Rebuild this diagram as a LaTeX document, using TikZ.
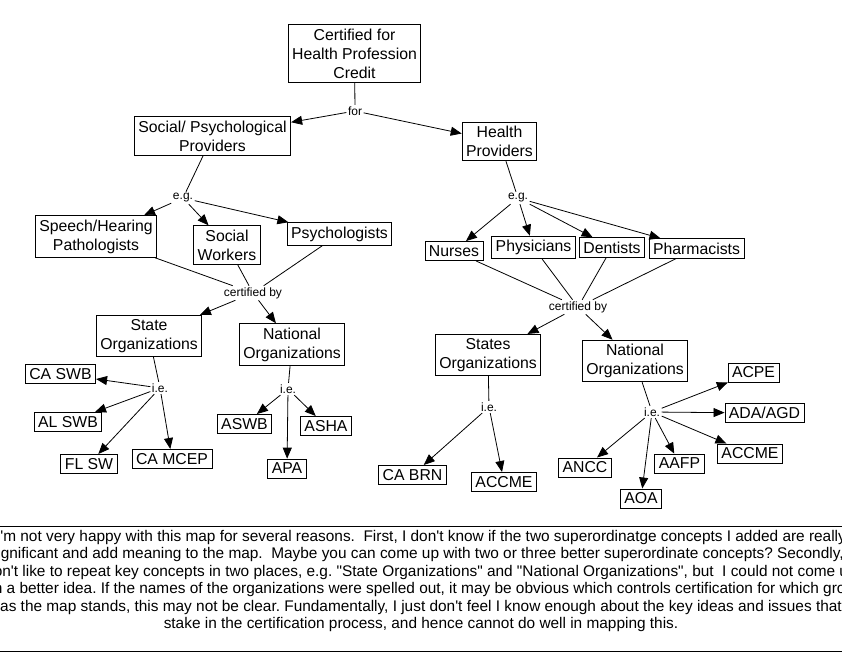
\documentclass[tikz,border=0pt]{standalone}
\usepackage{fontspec}
\setmainfont[Ligatures=TeXOff]{Liberation Sans}
\usetikzlibrary{arrows.meta}

\begin{document}
\begin{tikzpicture}[x=1pt,y=-1pt,
    concept/.style={draw, line width=0.8pt, align=center, inner xsep=4pt, inner ysep=4pt,
      font=\fontsize{15.8}{19}\selectfont},
    linkword/.style={inner sep=1.5pt, font=\fontsize{12}{14}\selectfont},
    link/.style={line width=0.8pt},
    arr/.style={line width=0.8pt, -{Triangle[length=11pt,width=9pt]}},
    rule/.style={line width=1pt},
    note/.style={inner sep=0pt, font=\fontsize{15.4}{18}\selectfont\frenchspacing}]
  \useasboundingbox (0,0) rectangle (842,671);
  \clip (0,0) rectangle (842,671);

  % top of the map
  \node [concept] (cert) at (354.5,53.5) {Certified for\\Health Profession\\Credit};
  \node [linkword] (for) at (355,111) {for};
  \node [concept] (soc) at (212.5,136) {Social/ Psychological\\Providers};
  \node [concept] (health) at (499.5,141.5) {Health\\Providers};

  % social / psychological side
  \node [linkword] (eg1) at (183,198) {e.g.};
  \node [concept] (speech) at (96,236.5) {Speech/Hearing\\Pathologists};
  \node [concept] (socw) at (227,245) {Social\\Workers};
  \node [concept] (psych) at (339.5,234) {Psychologists};
  \node [linkword] (cb1) at (253,293) {certified by};
  \node [concept] (state1) at (149,336) {State\\Organizations};
  \node [concept] (natl1) at (292,344.5) {National\\Organizations};
  \node [linkword] (ie1) at (160,388) {i.e.};
  \node [concept] (caswb) at (60.5,374) {CA SWB};
  \node [concept] (alswb) at (68,422) {AL SWB};
  \node [concept] (flsw) at (89,464) {FL SW};
  \node [concept] (camcep) at (172,459) {CA MCEP};
  \node [linkword] (ie2) at (288,389) {i.e.};
  \node [concept] (aswb) at (244.5,424) {ASWB};
  \node [concept] (asha) at (326,426) {ASHA};
  \node [concept] (apa) at (287,468.5) {APA};

  % health side
  \node [linkword] (eg2) at (518,198) {e.g.};
  \node [concept] (nurses) at (454,251) {Nurses};
  \node [concept] (phys) at (533.5,247.5) {Physicians};
  \node [concept] (dent) at (612,247.5) {Dentists};
  \node [concept] (pharm) at (696.5,248.5) {Pharmacists};
  \node [linkword] (cb2) at (578,307) {certified by};
  \node [concept] (state2) at (488,355) {States\\Organizations};
  \node [concept] (natl2) at (635,361) {National\\Organizations};
  \node [linkword] (ie3) at (489,407) {i.e.};
  \node [concept] (cabrn) at (412.5,475) {CA BRN};
  \node [concept] (accme1) at (504,482) {ACCME};
  \node [linkword] (ie4) at (652,412) {i.e.};
  \node [concept] (acpe) at (753.5,372.5) {ACPE};
  \node [concept] (adaagd) at (764.5,413) {ADA/AGD};
  \node [concept] (accme2) at (750,453.5) {ACCME};
  \node [concept] (aafp) at (679.5,463.5) {AAFP};
  \node [concept] (aoa) at (641,498.5) {AOA};
  \node [concept] (ancc) at (585,467.5) {ANCC};

  % links
  \draw [link] (cert) -- (for);
  \draw [arr] (for) -- (soc);
  \draw [arr] (for) -- (health);

  \draw [link] (soc) -- (eg1);
  \draw [arr] (eg1) -- (speech);
  \draw [arr] (eg1) -- (socw);
  \draw [arr] (eg1) -- (psych);
  \draw [link] (speech) -- (cb1);
  \draw [link] (socw) -- (cb1);
  \draw [link] (psych) -- (cb1);
  \draw [arr] (cb1) -- (state1);
  \draw [arr] (cb1) -- (natl1);
  \draw [link] (state1) -- (ie1);
  \draw [arr] (ie1) -- (caswb);
  \draw [arr] (ie1) -- (alswb);
  \draw [arr] (ie1) -- (flsw);
  \draw [arr] (ie1) -- (camcep);
  \draw [link] (natl1) -- (ie2);
  \draw [arr] (ie2) -- (aswb);
  \draw [arr] (ie2) -- (apa);
  \draw [arr] (ie2) -- (asha);

  \draw [link] (health) -- (eg2);
  \draw [arr] (eg2) -- (nurses);
  \draw [arr] (eg2) -- (phys);
  \draw [arr] (eg2) -- (dent);
  \draw [arr] (eg2) -- (pharm);
  \draw [link] (nurses) -- (cb2);
  \draw [link] (phys) -- (cb2);
  \draw [link] (dent) -- (cb2);
  \draw [link] (pharm) -- (cb2);
  \draw [arr] (cb2) -- (state2);
  \draw [arr] (cb2) -- (natl2);
  \draw [link] (state2) -- (ie3);
  \draw [arr] (ie3) -- (cabrn);
  \draw [arr] (ie3) -- (accme1);
  \draw [link] (natl2) -- (ie4);
  \draw [arr] (ie4) -- (ancc);
  \draw [arr] (ie4) -- (aoa);
  \draw [arr] (ie4) -- (aafp);
  \draw [arr] (ie4) -- (accme2);
  \draw [arr] (ie4) -- (adaagd);
  \draw [arr] (ie4) -- (acpe);

  % comment box under the map
  \draw [rule] (-5,526.5) -- (847,526.5);
  \draw [rule] (-5,651) -- (847,651);
  \node [note] (note1) at (421,537.5) {I'm not very happy with this map for several reasons.~ First, I don't know if the two superordinatge concepts I added are really};
  \node [note] (note2) at (421,555) {significant and add meaning to the map.~ Maybe you can come up with two or three better superordinate concepts? Secondly, I};
  \node [note] (note3) at (421,572.5) {don't like to repeat key concepts in two places, e.g. "State Organizations" and "National Organizations", but~ I could not come up};
  \node [note] (note4) at (421,590) {with a better idea. If the names of the organizations were spelled out, it may be obvious which controls certification for which group,};
  \node [note] (note5) at (421,607.5) {as the map stands, this may not be clear. Fundamentally, I just don't feel I know enough about the key ideas and issues that};
  \node [note] (note6) at (421,625) {stake in the certification process, and hence cannot do well in mapping this.};
\end{tikzpicture}
\end{document}
